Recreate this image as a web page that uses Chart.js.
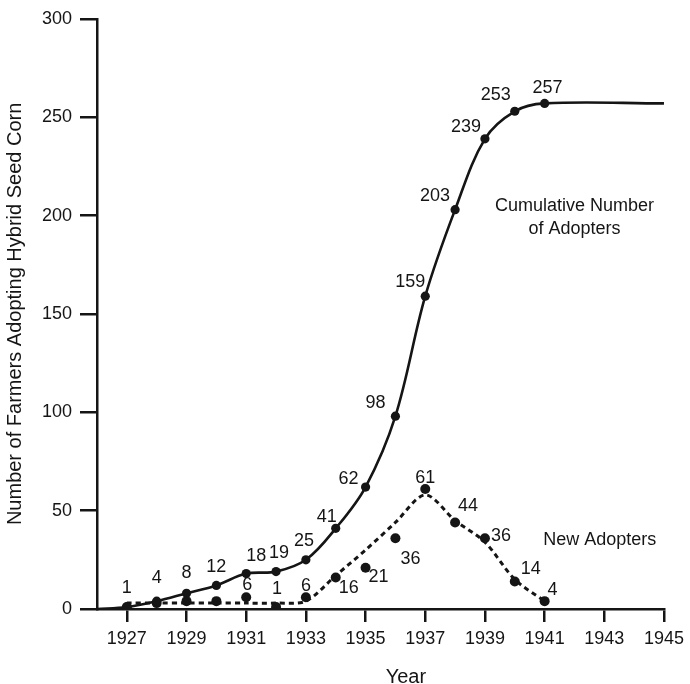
<!DOCTYPE html>
<html>
<head>
<meta charset="utf-8">
<title>Hybrid Seed Corn Adoption</title>
<script src="https://cdn.jsdelivr.net/npm/chart.js@4.4.1/dist/chart.umd.min.js"></script>
<style>
    html, body { margin: 0; padding: 0; background: #fff; }
    #wrap { width: 690px; height: 684px; }
</style>
</head>
<body>
<div id="wrap"><canvas id="adopters" width="690" height="684"></canvas></div>
<script>
    // Data
    var years = [1927, 1928, 1929, 1930, 1931, 1932, 1933, 1934, 1935, 1936, 1937, 1938, 1939, 1940, 1941];
    var cumulative = [1, 4, 8, 12, 18, 19, 25, 41, 62, 98, 159, 203, 239, 253, 257];
    var newAdopters = [1, 3, 4, 4, 6, 1, 6, 16, 21, 36, 61, 44, 36, 14, 4];
    // dashed curve as it is drawn (smoothed, misses 1935/1936 dots)
    var newTrend = [3, 3, 3, 3, 3, 3, 4, 17, 30, 44, 58, 45, 34, 15, 4];
    // cumulative line runs from the origin and flattens out to the end of the axis
    var curveStart = [1926, 0];
    var curveEnd = [1945, 257];
    var xTickYears = [1927, 1929, 1931, 1933, 1935, 1937, 1939, 1941, 1943, 1945];
    var yTickValues = [0, 50, 100, 150, 200, 250, 300];

    // label offsets (px) from each dot
    var cumOffsets = [[0, -19], [0, -23], [0, -20], [0, -18], [10, -18], [3, -19], [-2, -19],
        [-9, -11], [-17, -8], [-20, -13], [-15, -14], [-20, -14], [-19, -12], [-19, -16], [3, -15]];
    var newOffsets = [null, null, null, null, [1, -12], [1, -18], [0, -11],
        [13, 11], [13, 9], [15, 21], [0, -11], [13, -16], [16, -2], [16, -12], [8, -11]];

    var ink = "#151515";
    var fontFamily = "'Liberation Sans', Arial, Helvetica, sans-serif";

    function toPoints(xs, ys) {
        var pts = [];
        for (var i = 0; i < xs.length; i++) {
            pts.push({x: xs[i], y: ys[i]});
        }
        return pts;
    }

    var cumPoints = [{x: curveStart[0], y: curveStart[1]}]
        .concat(toPoints(years, cumulative))
        .concat([{x: curveEnd[0], y: curveEnd[1]}]);
    var cumRadius = cumPoints.map(function (p, i) {
        return (i === 0 || i === cumPoints.length - 1) ? 0 : 4.6;
    });

    var textPlugin = {
        id: "textLabels",
        afterDraw: function (chart) {
            var ctx = chart.ctx;
            var xs = chart.scales.x, ys = chart.scales.y;
            ctx.save();
            ctx.fillStyle = ink;
            ctx.textAlign = "center";
            ctx.textBaseline = "middle";
            ctx.font = "18px " + fontFamily;

            // value labels
            for (var i = 0; i < years.length; i++) {
                var px = xs.getPixelForValue(years[i]);
                var o = cumOffsets[i];
                ctx.fillText(String(cumulative[i]), px + o[0], ys.getPixelForValue(cumulative[i]) + o[1]);
                var n = newOffsets[i];
                if (n) {
                    ctx.fillText(String(newAdopters[i]), px + n[0], ys.getPixelForValue(newAdopters[i]) + n[1]);
                }
            }

            // curve names
            ctx.fillText("Cumulative Number", xs.getPixelForValue(1942.0), ys.getPixelForValue(204.7));
            ctx.fillText("of Adopters", xs.getPixelForValue(1942.0), ys.getPixelForValue(193.1));
            ctx.fillText("New Adopters", xs.getPixelForValue(1942.85), ys.getPixelForValue(35.3));

            // x axis title
            ctx.font = "20px " + fontFamily;
            ctx.fillText("Year", xs.getPixelForValue(1936.35), 677);
            ctx.restore();
        }
    };

    var ctx = document.getElementById("adopters").getContext("2d");
    var myChart = new Chart(ctx, {
        type: "line",
        data: {
            datasets: [{
                label: "Cumulative Number of Adopters",
                data: cumPoints,
                borderColor: ink,
                backgroundColor: ink,
                borderWidth: 2.6,
                pointRadius: cumRadius,
                pointBorderWidth: 0,
                tension: 0.35,
                fill: false
            }, {
                label: "New Adopters (curve)",
                data: toPoints(years, newTrend),
                borderColor: ink,
                borderWidth: 3,
                borderDash: [5, 4],
                pointRadius: 0,
                tension: 0.3,
                fill: false
            }, {
                label: "New Adopters",
                data: toPoints(years, newAdopters),
                showLine: false,
                backgroundColor: ink,
                borderColor: ink,
                pointRadius: 5,
                pointBorderWidth: 0
            }]
        },
        options: {
            responsive: false,
            animation: false,
            layout: {
                padding: {left: 0, right: 22, top: 14, bottom: 0}
            },
            plugins: {
                legend: {display: false},
                tooltip: {enabled: false}
            },
            scales: {
                x: {
                    type: "linear",
                    min: 1926,
                    max: 1945,
                    afterBuildTicks: function (scale) {
                        scale.ticks = xTickYears.map(function (v) { return {value: v}; });
                    },
                    afterFit: function (scale) {
                        scale.height = 75;
                    },
                    border: {display: true, color: ink, width: 2.5},
                    grid: {
                        drawOnChartArea: false,
                        drawTicks: true,
                        tickLength: 13,
                        color: ink,
                        lineWidth: 2.5
                    },
                    ticks: {
                        color: ink,
                        padding: 6,
                        maxRotation: 0,
                        autoSkip: false,
                        font: {family: fontFamily, size: 18},
                        callback: function (v) { return String(v); }
                    }
                },
                y: {
                    min: 0,
                    max: 300,
                    afterBuildTicks: function (scale) {
                        scale.ticks = yTickValues.map(function (v) { return {value: v}; });
                    },
                    afterFit: function (scale) {
                        scale.width = 97;
                    },
                    border: {display: true, color: ink, width: 2.5},
                    grid: {
                        drawOnChartArea: false,
                        drawTicks: true,
                        tickLength: 17,
                        color: ink,
                        lineWidth: 2.5
                    },
                    ticks: {
                        color: ink,
                        padding: 8,
                        font: {family: fontFamily, size: 18}
                    },
                    title: {
                        display: true,
                        text: "Number of Farmers Adopting Hybrid Seed Corn",
                        color: ink,
                        padding: {top: 3, bottom: 0},
                        font: {family: fontFamily, size: 20}
                    }
                }
            }
        },
        plugins: [textPlugin]
    });
</script>
</body>
</html>
